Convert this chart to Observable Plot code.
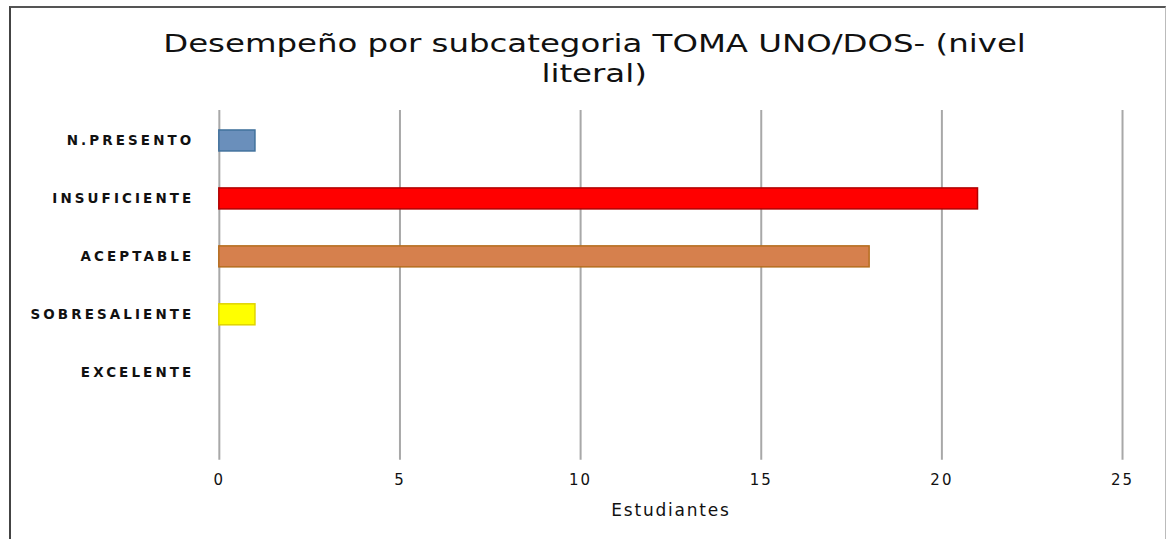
<!DOCTYPE html>
<html>
<head>
<meta charset="utf-8">
<script src="https://cdn.jsdelivr.net/npm/d3@7"></script>
<script src="https://cdn.jsdelivr.net/npm/@observablehq/plot@0.6"></script>
<style>
  html, body { margin: 0; padding: 0; background: #fff; }
  #frame {
    position: absolute; left: 9px; top: 6px; width: 1157px; height: 540px;
    border-left: 2px solid #444; border-top: 2px solid #555; border-right: 1px solid #bbb;
    box-sizing: border-box; background: #fff;
  }
  #title {
    position: absolute; left: 6px; top: 21px; width: 1155px; text-align: center;
    font-family: "DejaVu Sans Condensed", "DejaVu Sans", sans-serif; font-size: 24px; line-height: 30px; color: #111;
  }
  #title span { display: inline-block; transform: scaleX(1.5); transform-origin: center; }
  #chart { position: absolute; left: 0; top: 92px; }
  #chart g[aria-label="y-axis tick label"] text { font-weight: bold; letter-spacing: 3.1px; }
  #chart g[aria-label="x-axis tick label"] text { letter-spacing: 2px; }
  #chart g[aria-label="x-axis label"] text { font-size: 17px; letter-spacing: 1.8px; }
</style>
</head>
<body>
<div id="frame">
  <div id="title"><span>Desempeño por subcategoria TOMA UNO/DOS- (nivel</span><br><span>literal)</span></div>
  <div id="chart"></div>
</div>
<script>
const categories = ["N.PRESENTO", "INSUFICIENTE", "ACEPTABLE", "SOBRESALIENTE", "EXCELENTE"];
const values = [1, 21, 18, 1, 0];
const fills = ["#6a8fbb", "#ff0000", "#d6804d", "#ffff00", "#ffffff"];
const strokes = ["#41719c", "#b00000", "#b56d1e", "#e0d400", "#ffffff"];
const xTicks = [0, 5, 10, 15, 20, 25];
const xLabel = "Estudiantes";

const data = categories.map((c, i) => ({cat: c, value: values[i], fill: fills[i], stroke: strokes[i]}));

const chart = Plot.plot({
  width: 1155,
  height: 438,
  marginLeft: 208,
  marginRight: 43,
  marginTop: 10,
  marginBottom: 78,
  style: {fontFamily: "DejaVu Sans, sans-serif", fontSize: "13px", color: "#111", background: "#fff"},
  x: {domain: [0, 25]},
  y: {type: "band", domain: [...categories, " "], paddingInner: 0.64, paddingOuter: 0.32},
  marks: [
    Plot.gridX(xTicks, {stroke: "#a8a8a8", strokeWidth: 2, strokeOpacity: 1}),
    Plot.barX(data.filter(d => d.value > 0), {x: "value", y: "cat", fill: d => d.fill, stroke: d => d.stroke, strokeWidth: 1.5}),
    Plot.axisY({tickSize: 0, tickPadding: 25, label: null, fontSize: 13.5}),
    Plot.axisX({ticks: xTicks, tickSize: 0, tickPadding: 14, label: xLabel, labelAnchor: "center", labelArrow: "none", labelOffset: 56, fontSize: 15})
  ]
});
document.getElementById("chart").appendChild(chart);
</script>
</body>
</html>
